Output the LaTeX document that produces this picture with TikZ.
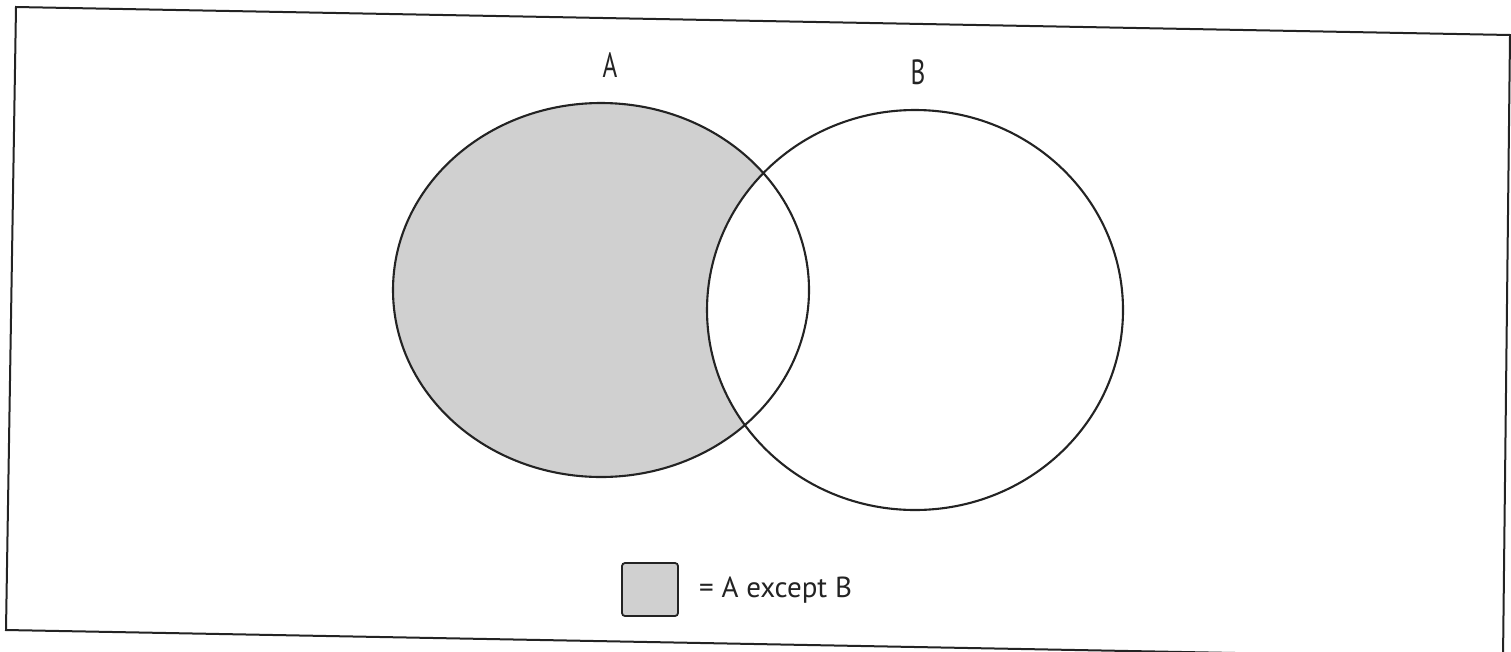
\documentclass[tikz,border=0pt]{standalone}
\usepackage{fontspec}
\setmainfont{PT Sans}
\newfontfamily\condfont[FakeStretch=0.72]{PT Sans}
\definecolor{areagray}{RGB}{208,208,208}
\definecolor{inkc}{RGB}{35,35,35}
\begin{document}
\begin{tikzpicture}[x=1pt,y=-1pt,
  outline/.style={draw=inkc,line width=2.1pt},
  framestyle/.style={draw=inkc,line width=2pt},
  setlabel/.style={font=\condfont\fontsize{35}{35}\selectfont,text=inkc,inner sep=0pt},
  keybox/.style={draw=inkc,line width=1.8pt,fill=areagray,rounded corners=3pt,minimum width=56pt,minimum height=53pt,inner sep=0pt},
  keytext/.style={font=\fontsize{29}{29}\selectfont,text=inkc,inner sep=0pt,anchor=west}]
\useasboundingbox (0,0) rectangle (1511,651);
\fill[white] (0,0) rectangle (1511,651);
% frame (slightly tilted as in the scan)
\draw[framestyle] (16,7) -- (1510,35) -- (1503,658) -- (6,630) -- cycle;
% set A filled, B white on top
\fill[areagray] (601,290) ellipse [x radius=208pt, y radius=187pt];
\fill[white] (915,310) ellipse [x radius=208pt, y radius=200pt];
\draw[outline] (601,290) ellipse [x radius=208pt, y radius=187pt];
\draw[outline] (915,310) ellipse [x radius=208pt, y radius=200pt];
% labels
\node[setlabel] (labA) at (610,65) {A};
\node[setlabel] (labB) at (918,72) {B};
% legend
\node[keybox] (key) at (650,589.5) {};
\node[keytext] (keylab) at (699,590) {= A except B};
\end{tikzpicture}
\end{document}
